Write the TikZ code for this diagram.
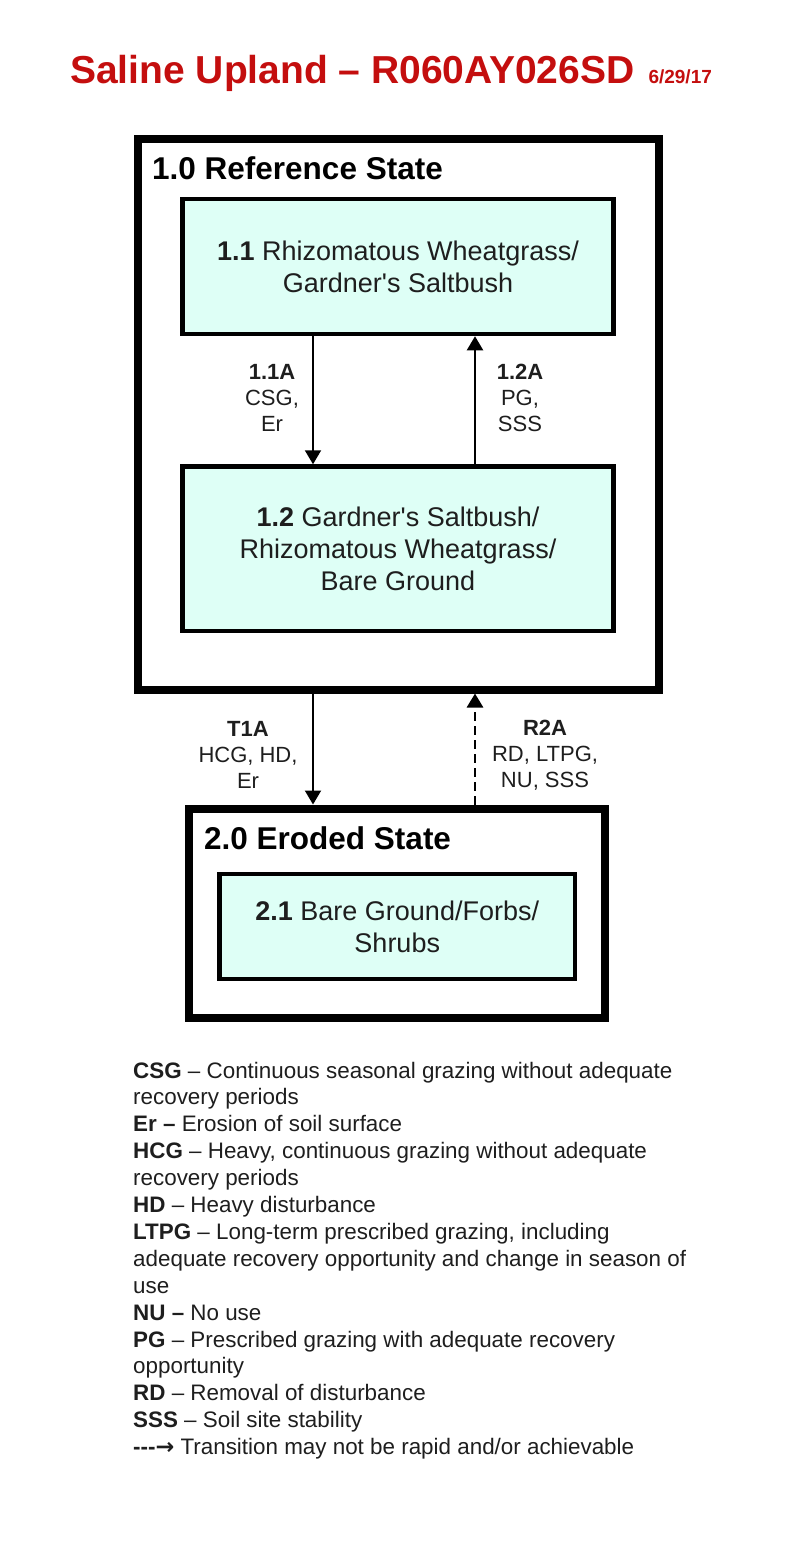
\documentclass[tikz,border=0pt]{standalone}
\usepackage{fontspec}
\setmainfont{Liberation Sans}
\newfontfamily\symbfont{DejaVu Sans}
\usetikzlibrary{arrows.meta, calc, positioning}
\definecolor{titlered}{RGB}{196,14,14}
\definecolor{phasefill}{RGB}{222,255,246}
\definecolor{inkgray}{RGB}{30,30,30}
\tikzset{
  statebox/.style={draw, line width=8pt, inner sep=0pt},
  phasebox/.style={draw, fill=phasefill, line width=4.5pt, inner sep=0pt, align=center,
    text=inkgray, font=\fontsize{27}{32}\selectfont},
  statename/.style={inner sep=0pt, font=\bfseries\fontsize{31.5}{36}\selectfont},
  trans/.style={line width=2pt, ->},
  translabel/.style={inner sep=0pt, align=center, text=inkgray, font=\fontsize{22}{26}\selectfont},
  legendtext/.style={inner sep=0pt, anchor=base west, text=inkgray, font=\fontsize{22.4}{27}\selectfont}
}

\begin{document}
\begin{tikzpicture}[x=1pt, y=-1pt, >={Triangle[width=16pt,length=14pt]}]
\useasboundingbox (0,0) rectangle (800,1546);
% title
\node[anchor=base west, inner sep=0pt, text=titlered, font=\bfseries\fontsize{39}{44}\selectfont]
  (title) at (70,84) {Saline Upland – R060AY026SD\hspace{14pt}{\fontsize{19}{22}\selectfont 6/29/17}};
% states
\node[statebox, minimum width=520.5pt, minimum height=550pt] (ref) at (398.25,414.5) {};
\node[statename, anchor=base west] (refname) at (152,180) {1.0 Reference State};
\node[statebox, minimum width=416pt, minimum height=209pt] (eroded) at (396.5,913) {};
\node[statename, anchor=base west] (erodedname) at (204,849) {2.0 Eroded State};
% phases
\node[phasebox, minimum width=431pt, minimum height=135pt] (p11) at (398,266.5)
  {\textbf{1.1} Rhizomatous Wheatgrass/\\Gardner\textquotesingle s Saltbush};
\node[phasebox, minimum width=431pt, minimum height=164.5pt] (p12) at (398,548.75)
  {\textbf{1.2} Gardner\textquotesingle s Saltbush/\\Rhizomatous Wheatgrass/\\Bare Ground};
\node[phasebox, minimum width=355.5pt, minimum height=105pt] (p21) at (397.25,926.5)
  {\textbf{2.1} Bare Ground/Forbs/\\Shrubs};
% transitions
\coordinate (lx) at (313,0);
\coordinate (rx) at (475,0);
\draw[trans] (p11.south -| lx) -- (p12.north -| lx);
\draw[trans] (p12.north -| rx) -- (p11.south -| rx);
\draw[trans] (ref.south -| lx) -- (eroded.north -| lx);
\draw[trans, line width=2.8pt, dash pattern=on 9pt off 5pt] (eroded.north -| rx) -- (ref.south -| rx);
\node[translabel] (l11) at (272,398) {\textbf{1.1A}\\CSG,\\Er};
\node[translabel] (l12) at (520,398) {\textbf{1.2A}\\PG,\\SSS};
\node[translabel] (lt1) at (248,755) {\textbf{T1A}\\HCG, HD,\\Er};
\node[translabel] (lr2) at (545,755) {\textbf{R2A}\\RD, LTPG,\\NU, SSS};
% legend
\foreach \txt [count=\i from 0] in {
  {\textbf{CSG} – Continuous seasonal grazing without adequate},
  {recovery periods},
  {\textbf{Er –} Erosion of soil surface},
  {\textbf{HCG} – Heavy, continuous grazing without adequate},
  {recovery periods},
  {\textbf{HD} – Heavy disturbance},
  {\textbf{LTPG} – Long-term prescribed grazing, including},
  {adequate recovery opportunity and change in season of},
  {use},
  {\textbf{NU –} No use},
  {\textbf{PG} – Prescribed grazing with adequate recovery},
  {opportunity},
  {\textbf{RD} – Removal of disturbance},
  {\textbf{SSS} – Soil site stability},
  {\textbf{-{}-{}-}{\symbfont\bfseries →} Transition may not be rapid and/or achievable}}
  \node[legendtext] (leg\i) at (133,1078+26.9*\i) {\txt};
\end{tikzpicture}
\end{document}
